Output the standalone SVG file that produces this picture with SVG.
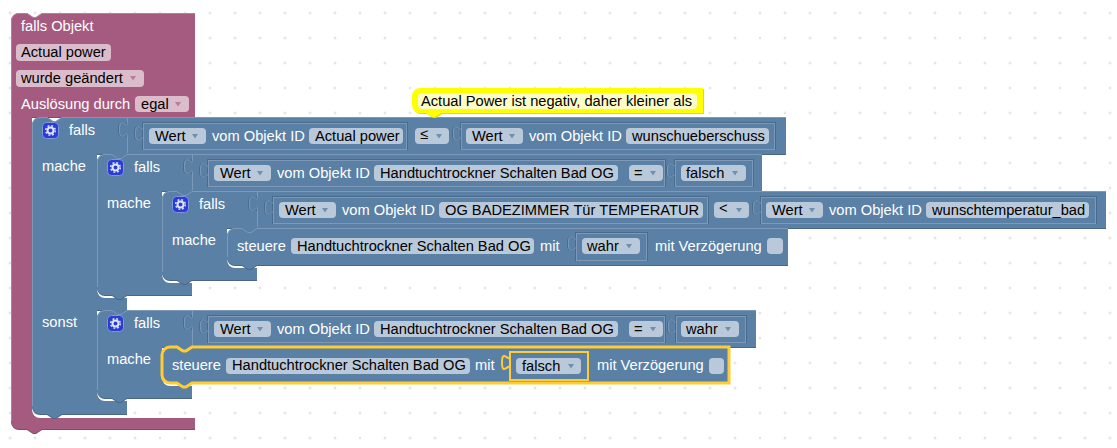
<svg xmlns="http://www.w3.org/2000/svg" xmlns:xlink="http://www.w3.org/1999/xlink" width="1117" height="448" viewBox="0 0 1117 448">
<style>
text{font-family:"Liberation Sans",Arial,sans-serif;font-size:14.67px}
.w{fill:#fff}.k{fill:#000}
.blue{fill:#5b80a5}.pink{fill:#a55b80}
.dark{fill:#496684}.pdark{fill:#844966}
.lt{fill:none;stroke:#7d99b7;stroke-width:1}
.dk{fill:none;stroke:#4a6a8c;stroke-width:1}
.plt{fill:none;stroke:#b77d99;stroke-width:1}
.f{fill:#bac9d9}.pf{fill:#dbbccb}
.tri{fill:#6f8fae}.ptri{fill:#b77d99}
.box{fill:#5b80a5;stroke:#7d99b7;stroke-width:1}
.box2{fill:none;stroke:#4a6a8c;stroke-width:1}
.sel{fill:none;stroke:#fc3;stroke-width:3}
.sel2{fill:none;stroke:#fc3;stroke-width:2}
</style>
<defs>
<pattern id="grid" width="25" height="25" patternUnits="userSpaceOnUse" x="-2" y="0.5">
<path d="M12 11v3M10.500 12.500h3" stroke="#ddd" stroke-width="1" fill="none"/>
</pattern>
<path id="tab" d="M0 0c0 10-8-8-8 7.500s8-2.500 8 7.500"/>
<path id="dd" d="M0 0h6l-3 4.500z"/>
<g id="gear">
<rect x="0.500" y="0.500" width="16" height="16" rx="4" fill="#2b3bd6" stroke="#7d99d8"/>
<circle cx="8.500" cy="8.500" r="3" fill="none" stroke="#dfe6f5" stroke-width="2"/>
<circle cx="8.500" cy="8.500" r="4.800" fill="none" stroke="#dfe6f5" stroke-width="1.500" stroke-dasharray="1.900 1.900"/>
</g>
</defs>
<rect id="workspace-grid" width="1117" height="448" fill="url(#grid)"/>
<g id="connectors"></g>

<g id="trigger">
<path class="pdark" transform="translate(0,1)" d="M11 21a8 8 0 0 1 8-8h8l6 4h3l6-4H195V117H32V410a8 8 0 0 0 8 8H195V429H42l-6 4h-3l-6-4H19a8 8 0 0 1-8-8Z"/>
<path class="pink" d="M11 21a8 8 0 0 1 8-8h8l6 4h3l6-4H195V117H32V410a8 8 0 0 0 8 8H195V429H42l-6 4h-3l-6-4H19a8 8 0 0 1-8-8Z"/>
<path class="plt" d="M11.500 421V21a7.500 7.500 0 0 1 7.500-7.500h8l6 4h3l6-4H195"/>
<text class="w" x="21" y="31">falls Objekt</text>
<rect class="pf" x="16" y="44" width="95" height="17" rx="4"/><text class="k" x="21" y="57">Actual power</text>
<rect class="pf" x="16" y="70" width="128" height="17" rx="4"/><text class="k" x="21" y="83">wurde geändert</text><use href="#dd" class="ptri" x="130" y="76"/>
<text class="w" x="21" y="109">Auslösung durch</text>
<rect class="pf" x="135" y="96" width="54" height="16" rx="4"/><text class="k" x="141" y="109">egal</text><use href="#dd" class="ptri" x="175" y="102"/>
</g>

<g id="if-outer">
<path class="dark" transform="translate(0,1)" d="M32 125a8 8 0 0 1 8-8h7l6 4h3l6-4H786V154H127l-6 4h-3l-6-4H97V290a8 8 0 0 0 8 8H127V310l-6 4h-3l-6-4H97V393a8 8 0 0 0 8 8H127V414H62l-6 4h-3l-6-4H40a8 8 0 0 1-8-8Z"/>
<path class="blue" d="M32 125a8 8 0 0 1 8-8h7l6 4h3l6-4H786V154H127l-6 4h-3l-6-4H97V290a8 8 0 0 0 8 8H127V310l-6 4h-3l-6-4H97V393a8 8 0 0 0 8 8H127V414H62l-6 4h-3l-6-4H40a8 8 0 0 1-8-8Z"/>
<path class="lt" d="M32.500 406V125a7.500 7.500 0 0 1 7.500-7.500h7l6 4h3l6-4H786"/>
<path class="lt" d="M127.500 118V122"/><use href="#tab" class="dk" x="126.500" y="122"/><use href="#tab" class="lt" x="127.500" y="122"/><path class="lt" d="M127.500 137V153"/>
<use href="#gear" x="42" y="122"/>
<text class="w" x="69" y="135">falls</text>
<text class="w" x="42" y="171">mache</text>
<text class="w" x="42" y="327">sonst</text>
<rect class="box2" x="142.500" y="122.500" width="265" height="27"/><rect class="box" x="143.500" y="123.500" width="263" height="26"/>
<use href="#tab" class="dk" x="142.500" y="126"/><use href="#tab" class="lt" x="143.500" y="126"/>
<rect class="f" x="149" y="128" width="57" height="16" rx="4"/><text class="k" x="155" y="141">Wert</text><use href="#dd" class="tri" x="192" y="134"/>
<text class="w" x="212" y="141">vom Objekt ID</text>
<rect class="f" x="309" y="128" width="94" height="16" rx="4"/><text class="k" x="315" y="141">Actual power</text>
<rect class="f" x="415" y="128" width="34" height="16" rx="4"/><text class="k" x="420" y="139">≤</text><use href="#dd" class="tri" x="436" y="134"/>
<rect class="box2" x="460.500" y="122.500" width="315" height="27"/><rect class="box" x="461.500" y="123.500" width="313" height="26"/>
<use href="#tab" class="dk" x="460.500" y="126"/><use href="#tab" class="lt" x="461.500" y="126"/>
<rect class="f" x="466" y="128" width="57" height="16" rx="4"/><text class="k" x="472" y="141">Wert</text><use href="#dd" class="tri" x="509" y="134"/>
<text class="w" x="529" y="141">vom Objekt ID</text>
<rect class="f" x="626" y="128" width="143" height="16" rx="4"/><text class="k" x="632" y="141">wunschueberschuss</text>
</g>

<g id="if-dry-off">
<path class="dark" transform="translate(0,1)" d="M97 162a8 8 0 0 1 8-8h7l6 4h3l6-4H762V191H192l-6 4h-3l-6-4H162V275a8 8 0 0 0 8 8H192V295H127l-6 4h-3l-6-4H105a8 8 0 0 1-8-8Z"/>
<path class="blue" d="M97 162a8 8 0 0 1 8-8h7l6 4h3l6-4H762V191H192l-6 4h-3l-6-4H162V275a8 8 0 0 0 8 8H192V295H127l-6 4h-3l-6-4H105a8 8 0 0 1-8-8Z"/>
<path class="lt" d="M97.500 287V162a7.500 7.500 0 0 1 7.500-7.500h7l6 4h3l6-4H762"/>
<path class="lt" d="M192.500 155V159"/><use href="#tab" class="dk" x="191.500" y="159"/><use href="#tab" class="lt" x="192.500" y="159"/><path class="lt" d="M192.500 174V190"/>
<use href="#gear" x="107" y="159"/>
<text class="w" x="134" y="172">falls</text>
<text class="w" x="107" y="208">mache</text>
<rect class="box2" x="207.500" y="159.500" width="458" height="27"/><rect class="box" x="208.500" y="160.500" width="456" height="26"/>
<use href="#tab" class="dk" x="207.500" y="163"/><use href="#tab" class="lt" x="208.500" y="163"/>
<rect class="f" x="214" y="165" width="57" height="16" rx="4"/><text class="k" x="220" y="178">Wert</text><use href="#dd" class="tri" x="257" y="171"/>
<text class="w" x="277" y="178">vom Objekt ID</text>
<rect class="f" x="374" y="165" width="244" height="16" rx="4"/><text class="k" x="380" y="178">Handtuchtrockner Schalten Bad OG</text>
<rect class="f" x="629" y="165" width="34" height="16" rx="4"/><text class="k" x="634" y="178">=</text><use href="#dd" class="tri" x="650" y="171"/>
<rect class="box2" x="674.500" y="159.500" width="79" height="27"/><rect class="box" x="675.500" y="160.500" width="77" height="26"/>
<use href="#tab" class="dk" x="674.500" y="163"/><use href="#tab" class="lt" x="675.500" y="163"/>
<rect class="f" x="681" y="165" width="65" height="16" rx="4"/><text class="k" x="686" y="178">falsch</text><use href="#dd" class="tri" x="732" y="171"/>
</g>

<g id="if-temperature">
<path class="dark" transform="translate(0,1)" d="M162 199a8 8 0 0 1 8-8h7l6 4h3l6-4H1106V228H257l-6 4h-3l-6-4H227V260a8 8 0 0 0 8 8H257V280H192l-6 4h-3l-6-4H170a8 8 0 0 1-8-8Z"/>
<path class="blue" d="M162 199a8 8 0 0 1 8-8h7l6 4h3l6-4H1106V228H257l-6 4h-3l-6-4H227V260a8 8 0 0 0 8 8H257V280H192l-6 4h-3l-6-4H170a8 8 0 0 1-8-8Z"/>
<path class="lt" d="M162.500 272V199a7.500 7.500 0 0 1 7.500-7.500h7l6 4h3l6-4H1106"/>
<path class="lt" d="M257.500 192V196"/><use href="#tab" class="dk" x="256.500" y="196"/><use href="#tab" class="lt" x="257.500" y="196"/><path class="lt" d="M257.500 211V227"/>
<use href="#gear" x="172" y="196"/>
<text class="w" x="199" y="209">falls</text>
<text class="w" x="172" y="245">mache</text>
<rect class="box2" x="272.500" y="196.500" width="436" height="27"/><rect class="box" x="273.500" y="197.500" width="434" height="26"/>
<use href="#tab" class="dk" x="272.500" y="200"/><use href="#tab" class="lt" x="273.500" y="200"/>
<rect class="f" x="279" y="202" width="57" height="16" rx="4"/><text class="k" x="285" y="215">Wert</text><use href="#dd" class="tri" x="322" y="208"/>
<text class="w" x="342" y="215">vom Objekt ID</text>
<rect class="f" x="439" y="202" width="264" height="16" rx="4"/><text class="k" x="445" y="215">OG BADEZIMMER Tür TEMPERATUR</text>
<rect class="f" x="714" y="202" width="35" height="16" rx="4"/><text class="k" x="719" y="213">&lt;</text><use href="#dd" class="tri" x="736" y="208"/>
<rect class="box2" x="760.500" y="196.500" width="336" height="27"/><rect class="box" x="761.500" y="197.500" width="334" height="26"/>
<use href="#tab" class="dk" x="760.500" y="200"/><use href="#tab" class="lt" x="761.500" y="200"/>
<rect class="f" x="766" y="202" width="57" height="16" rx="4"/><text class="k" x="772" y="215">Wert</text><use href="#dd" class="tri" x="809" y="208"/>
<text class="w" x="829" y="215">vom Objekt ID</text>
<rect class="f" x="926" y="202" width="163" height="16" rx="4"/><text class="k" x="932" y="215">wunschtemperatur_bad</text>
</g>

<g id="control-on">
<path class="dark" transform="translate(0,1)" d="M227 236a8 8 0 0 1 8-8h7l6 4h3l6-4H788V265H257l-6 4h-3l-6-4H235a8 8 0 0 1-8-8Z"/>
<path class="blue" d="M227 236a8 8 0 0 1 8-8h7l6 4h3l6-4H788V265H257l-6 4h-3l-6-4H235a8 8 0 0 1-8-8Z"/>
<path class="lt" d="M227.500 257V236a7.500 7.500 0 0 1 7.500-7.500h7l6 4h3l6-4H788"/>
<text class="w" x="237" y="251">steuere</text>
<rect class="f" x="291" y="238" width="243" height="16" rx="4"/><text class="k" x="297" y="251">Handtuchtrockner Schalten Bad OG</text>
<text class="w" x="540" y="251">mit</text>
<rect class="box2" x="575.500" y="232.500" width="72" height="28"/><rect class="box" x="576.500" y="233.500" width="70" height="27"/>
<use href="#tab" class="dk" x="575.500" y="236"/><use href="#tab" class="lt" x="576.500" y="236"/>
<rect class="f" x="582" y="238" width="58" height="16" rx="4"/><text class="k" x="587" y="251">wahr</text><use href="#dd" class="tri" x="626" y="244"/>
<text class="w" x="655" y="251">mit Verzögerung</text>
<rect class="f" x="767" y="238" width="16" height="16" rx="4"/>
</g>

<g id="if-dry-on">
<path class="dark" transform="translate(0,1)" d="M97 318a8 8 0 0 1 8-8h7l6 4h3l6-4H756V347H192l-6 4h-3l-6-4H162V378a8 8 0 0 0 8 8H192V398H127l-6 4h-3l-6-4H105a8 8 0 0 1-8-8Z"/>
<path class="blue" d="M97 318a8 8 0 0 1 8-8h7l6 4h3l6-4H756V347H192l-6 4h-3l-6-4H162V378a8 8 0 0 0 8 8H192V398H127l-6 4h-3l-6-4H105a8 8 0 0 1-8-8Z"/>
<path class="lt" d="M97.500 390V318a7.500 7.500 0 0 1 7.500-7.500h7l6 4h3l6-4H756"/>
<path class="lt" d="M192.500 311V315"/><use href="#tab" class="dk" x="191.500" y="315"/><use href="#tab" class="lt" x="192.500" y="315"/><path class="lt" d="M192.500 330V346"/>
<use href="#gear" x="107" y="315"/>
<text class="w" x="134" y="328">falls</text>
<text class="w" x="107" y="364">mache</text>
<rect class="box2" x="207.500" y="315.500" width="458" height="27"/><rect class="box" x="208.500" y="316.500" width="456" height="26"/>
<use href="#tab" class="dk" x="207.500" y="319"/><use href="#tab" class="lt" x="208.500" y="319"/>
<rect class="f" x="214" y="321" width="57" height="16" rx="4"/><text class="k" x="220" y="334">Wert</text><use href="#dd" class="tri" x="257" y="327"/>
<text class="w" x="277" y="334">vom Objekt ID</text>
<rect class="f" x="374" y="321" width="244" height="16" rx="4"/><text class="k" x="380" y="334">Handtuchtrockner Schalten Bad OG</text>
<rect class="f" x="629" y="321" width="34" height="16" rx="4"/><text class="k" x="634" y="334">=</text><use href="#dd" class="tri" x="650" y="327"/>
<rect class="box2" x="675.500" y="315.500" width="71" height="27"/><rect class="box" x="676.500" y="316.500" width="69" height="26"/>
<use href="#tab" class="dk" x="675.500" y="319"/><use href="#tab" class="lt" x="676.500" y="319"/>
<rect class="f" x="681" y="321" width="58" height="16" rx="4"/><text class="k" x="686" y="334">wahr</text><use href="#dd" class="tri" x="725" y="327"/>
</g>

<g id="control-off">
<path class="blue" d="M162 355a8 8 0 0 1 8-8h7l6 4h3l6-4H729V383H192l-6 4h-3l-6-4H170a8 8 0 0 1-8-8Z"/>
<path class="sel" d="M162 355a8 8 0 0 1 8-8h7l6 4h3l6-4H729V383H192l-6 4h-3l-6-4H170a8 8 0 0 1-8-8Z"/>
<text class="w" x="172" y="370">steuere</text>
<rect class="f" x="226" y="358" width="244" height="16" rx="4"/><text class="k" x="232" y="370">Handtuchtrockner Schalten Bad OG</text>
<text class="w" x="475" y="370">mit</text>
<rect class="sel2" x="510" y="352" width="78" height="28"/>
<use href="#tab" class="sel2" x="510" y="355"/>
<rect class="f" x="516" y="358" width="65" height="16" rx="4"/><text class="k" x="522" y="371">falsch</text><use href="#dd" class="tri" x="568" y="364"/>
<text class="w" x="597" y="370">mit Verzögerung</text>
<rect class="f" x="709" y="358" width="15" height="16" rx="4"/>
</g>

<g id="comment">
<path fill="#e0e000" transform="translate(1,1)" d="M412 96a8 8 0 0 1 8-8H703V113H441l-6 4h-3l-6-4H420a8 8 0 0 1-8-8Z"/>
<path fill="#ff0" d="M412 96a8 8 0 0 1 8-8H703V113H441l-6 4h-3l-6-4H420a8 8 0 0 1-8-8Z"/>
<rect x="418" y="93" width="279" height="16" rx="4" fill="#fdfdc8"/>
<text class="k" x="421" y="106">Actual Power ist negativ, daher kleiner als</text>
</g>
</svg>
